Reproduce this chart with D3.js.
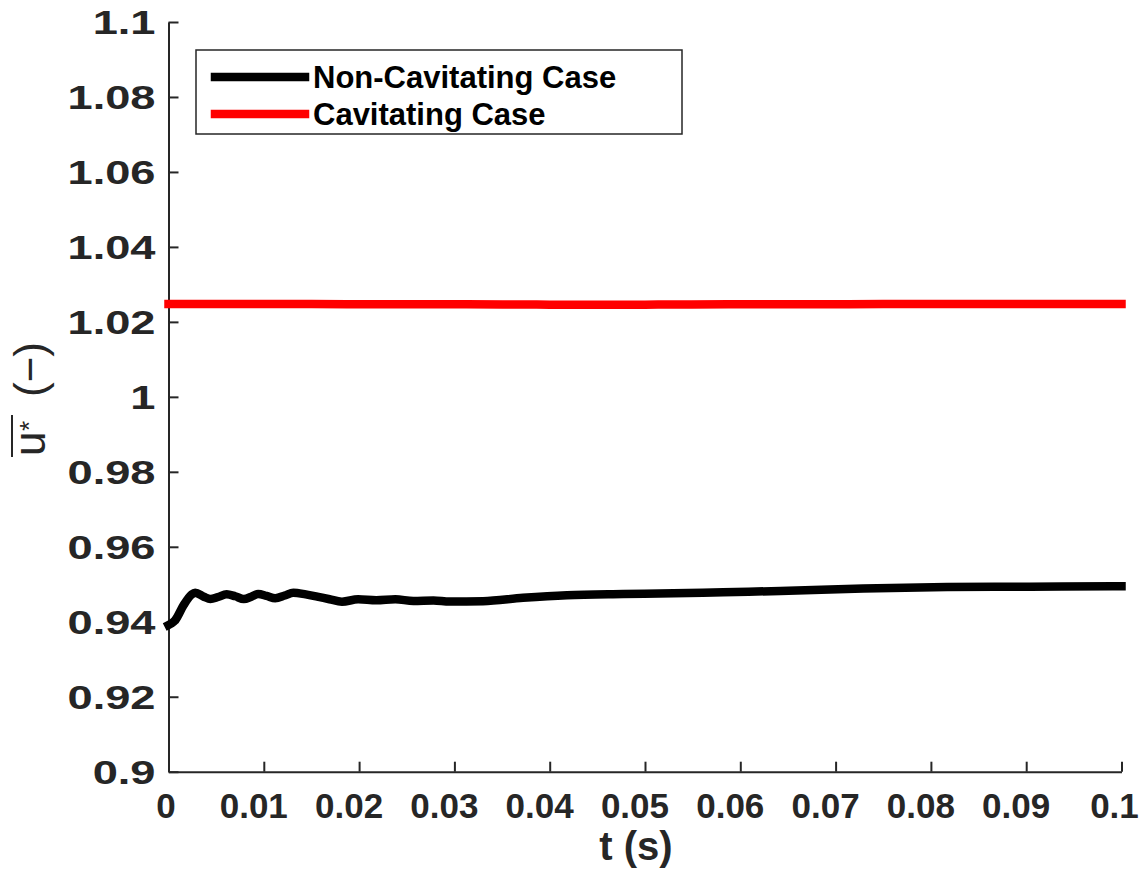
<!DOCTYPE html>
<html>
<head>
<meta charset="utf-8">
<script src="https://cdn.jsdelivr.net/npm/d3@7"></script>
<style>
  body { margin: 0; background: #fff; }
  text { font-family: "Liberation Sans", Arial, sans-serif; }
</style>
</head>
<body>
<svg id="canvas"></svg>
<script>
// Non-cavitating case (time in s, mean velocity).
var tNon = [0, 0.0007, 0.0016, 0.0024, 0.0028, 0.0037, 0.0044, 0.0052, 0.0061, 0.007, 0.0079,
            0.0087, 0.0094, 0.0103, 0.0112, 0.0122, 0.0131, 0.0144, 0.0156, 0.0169, 0.0182,
            0.0199, 0.0218, 0.0238, 0.0257, 0.0278, 0.0295, 0.033, 0.0372, 0.0418, 0.0477,
            0.053, 0.0582, 0.0642, 0.0729, 0.0817, 0.0904, 0.0991, 0.1];
var uNon = [0.9391, 0.9404, 0.9445, 0.9472, 0.94776, 0.94669, 0.94607, 0.9466, 0.94733, 0.9468, 0.94607,
            0.9467, 0.94741, 0.9469, 0.94626, 0.9470, 0.94776, 0.9473, 0.9467, 0.9460, 0.94535,
            0.9460, 0.94573, 0.9460, 0.94554, 0.9457, 0.9454, 0.9455, 0.94640, 0.9471, 0.9474,
            0.94758, 0.9479, 0.9482, 0.9489, 0.94927, 0.94935, 0.9495, 0.9495];

// Cavitating case.
var tCav = [0, 0.01, 0.02, 0.03, 0.04, 0.05, 0.06, 0.07, 0.08, 0.09, 0.1];
var uCav = [1.0248, 1.0248, 1.0247, 1.0247, 1.0246, 1.0246, 1.0247, 1.0247, 1.0248, 1.0248, 1.0248];

// Ticks.
var xTicks = [0, 0.01, 0.02, 0.03, 0.04, 0.05, 0.06, 0.07, 0.08, 0.09, 0.1];
var xTickLabels = ['0', '0.01', '0.02', '0.03', '0.04', '0.05', '0.06', '0.07', '0.08', '0.09', '0.1'];
var yTicks = [0.9, 0.92, 0.94, 0.96, 0.98, 1, 1.02, 1.04, 1.06, 1.08, 1.1];
var yTickLabels = ['0.9', '0.92', '0.94', '0.96', '0.98', '1', '1.02', '1.04', '1.06', '1.08', '1.1'];

var legendNames = ['Non-Cavitating Case', 'Cavitating Case'];
var seriesColours = ['#000000', '#ff0000'];

// Canvas properties.
var canvas = { width: 1143, height: 875 };
var plot = { left: 168.5, right: 1121.5, top: 22, bottom: 771.7 };
var axisColour = '#262626';

var svg = d3.select('#canvas')
            .attr('width', canvas.width)
            .attr('height', canvas.height);

var xScale = d3.scaleLinear().domain([0, 0.1]).range([plot.left, plot.right]);
var yScale = d3.scaleLinear().domain([0.9, 1.1]).range([plot.bottom, plot.top]);

// Bottom axis (ticks pointing inward).
var xAxis = d3.axisBottom(xScale)
              .tickValues(xTicks)
              .tickSizeInner(-10)
              .tickSizeOuter(0)
              .tickPadding(13)
              .tickFormat(function(d, i) { return xTickLabels[i]; });
var gx = svg.append('g')
            .attr('transform', 'translate(0,' + plot.bottom + ')')
            .call(xAxis);

// Left axis.
var yAxis = d3.axisLeft(yScale)
              .tickValues(yTicks)
              .tickSizeInner(-10)
              .tickSizeOuter(0)
              .tickPadding(13)
              .tickFormat(function(d, i) { return yTickLabels[i]; });
var gy = svg.append('g')
            .attr('transform', 'translate(' + plot.left + ',0)')
            .call(yAxis);

[gx, gy].forEach(function(g) {
  g.select('.domain').attr('stroke', axisColour).attr('stroke-width', 2);
  g.selectAll('.tick line').attr('stroke', axisColour).attr('stroke-width', 2);
  g.selectAll('.tick text')
   .attr('fill', axisColour)
   .style('font-weight', 'bold');
});
gx.selectAll('.tick text').style('font-size', '35px').attr('dy', '0.95em');
gy.selectAll('.tick text').style('font-size', '33px').attr('dy', '0.36em');

// In the original the x labels sit a little left of their ticks,
// and the y labels are drawn wider.
gx.selectAll('.tick text').each(function() {
  var w = this.getComputedTextLength();
  d3.select(this).attr('dx', -0.155 * w);
});
gy.selectAll('.tick text').each(function() {
  var w = this.getComputedTextLength();
  d3.select(this)
    .attr('textLength', w * 1.37)
    .attr('lengthAdjust', 'spacingAndGlyphs');
});

// Lines.
var line = d3.line()
             .x(function(d) { return xScale(d[0]); })
             .y(function(d) { return yScale(d[1]); })
             .curve(d3.curveMonotoneX);

var series = [
  d3.zip(tNon, uNon),
  d3.zip(tCav, uCav)
];

svg.selectAll('.series')
   .data(series)
   .enter()
   .append('path')
   .attr('class', 'series')
   .attr('d', line)
   .attr('fill', 'none')
   .attr('stroke', function(d, i) { return seriesColours[i]; })
   .attr('stroke-width', 8.5)
   .attr('stroke-linecap', 'square')
   .attr('stroke-linejoin', 'round');

// X axis title.
svg.append('text')
   .attr('x', 636)
   .attr('y', 860)
   .attr('text-anchor', 'middle')
   .attr('fill', axisColour)
   .style('font-size', '40px')
   .style('font-weight', 'bold')
   .text('t (s)');

// Y axis title: overlined u with a star, then (−).
var yTitle = svg.append('g')
                .attr('transform', 'translate(45,400) rotate(-90)')
                .attr('fill', axisColour)
                .style('font-family', '"Liberation Serif", "DejaVu Serif", serif');
yTitle.append('text')
      .attr('x', -56)
      .style('font-size', '44px')
      .text('u');
yTitle.append('text')
      .attr('x', -31)
      .attr('y', -7)
      .style('font-size', '26px')
      .text('*');
yTitle.append('text')
      .attr('x', 3)
      .style('font-size', '44px')
      .text('(\u2212)');
yTitle.append('line')
      .attr('x1', -57)
      .attr('x2', -15)
      .attr('y1', -33)
      .attr('y2', -33)
      .attr('stroke', axisColour)
      .attr('stroke-width', 2);

// Legend.
var legend = svg.append('g').attr('class', 'legend');
legend.append('rect')
      .attr('x', 196)
      .attr('y', 50)
      .attr('width', 486)
      .attr('height', 84)
      .attr('fill', '#fff')
      .attr('stroke', axisColour)
      .attr('stroke-width', 1.5);

var entries = legend.selectAll('.entry')
                    .data(legendNames)
                    .enter()
                    .append('g')
                    .attr('class', 'entry')
                    .attr('transform', function(d, i) { return 'translate(0,' + (77 + i * 37) + ')'; });

entries.append('line')
       .attr('x1', 215)
       .attr('x2', 305)
       .attr('stroke', function(d, i) { return seriesColours[i]; })
       .attr('stroke-width', 8.5)
       .attr('stroke-linecap', 'square');

entries.append('text')
       .attr('x', 313)
       .attr('y', 11)
       .attr('fill', '#000')
       .style('font-size', '31px')
       .style('font-weight', 'bold')
       .text(function(d) { return d; });
</script>
</body>
</html>
